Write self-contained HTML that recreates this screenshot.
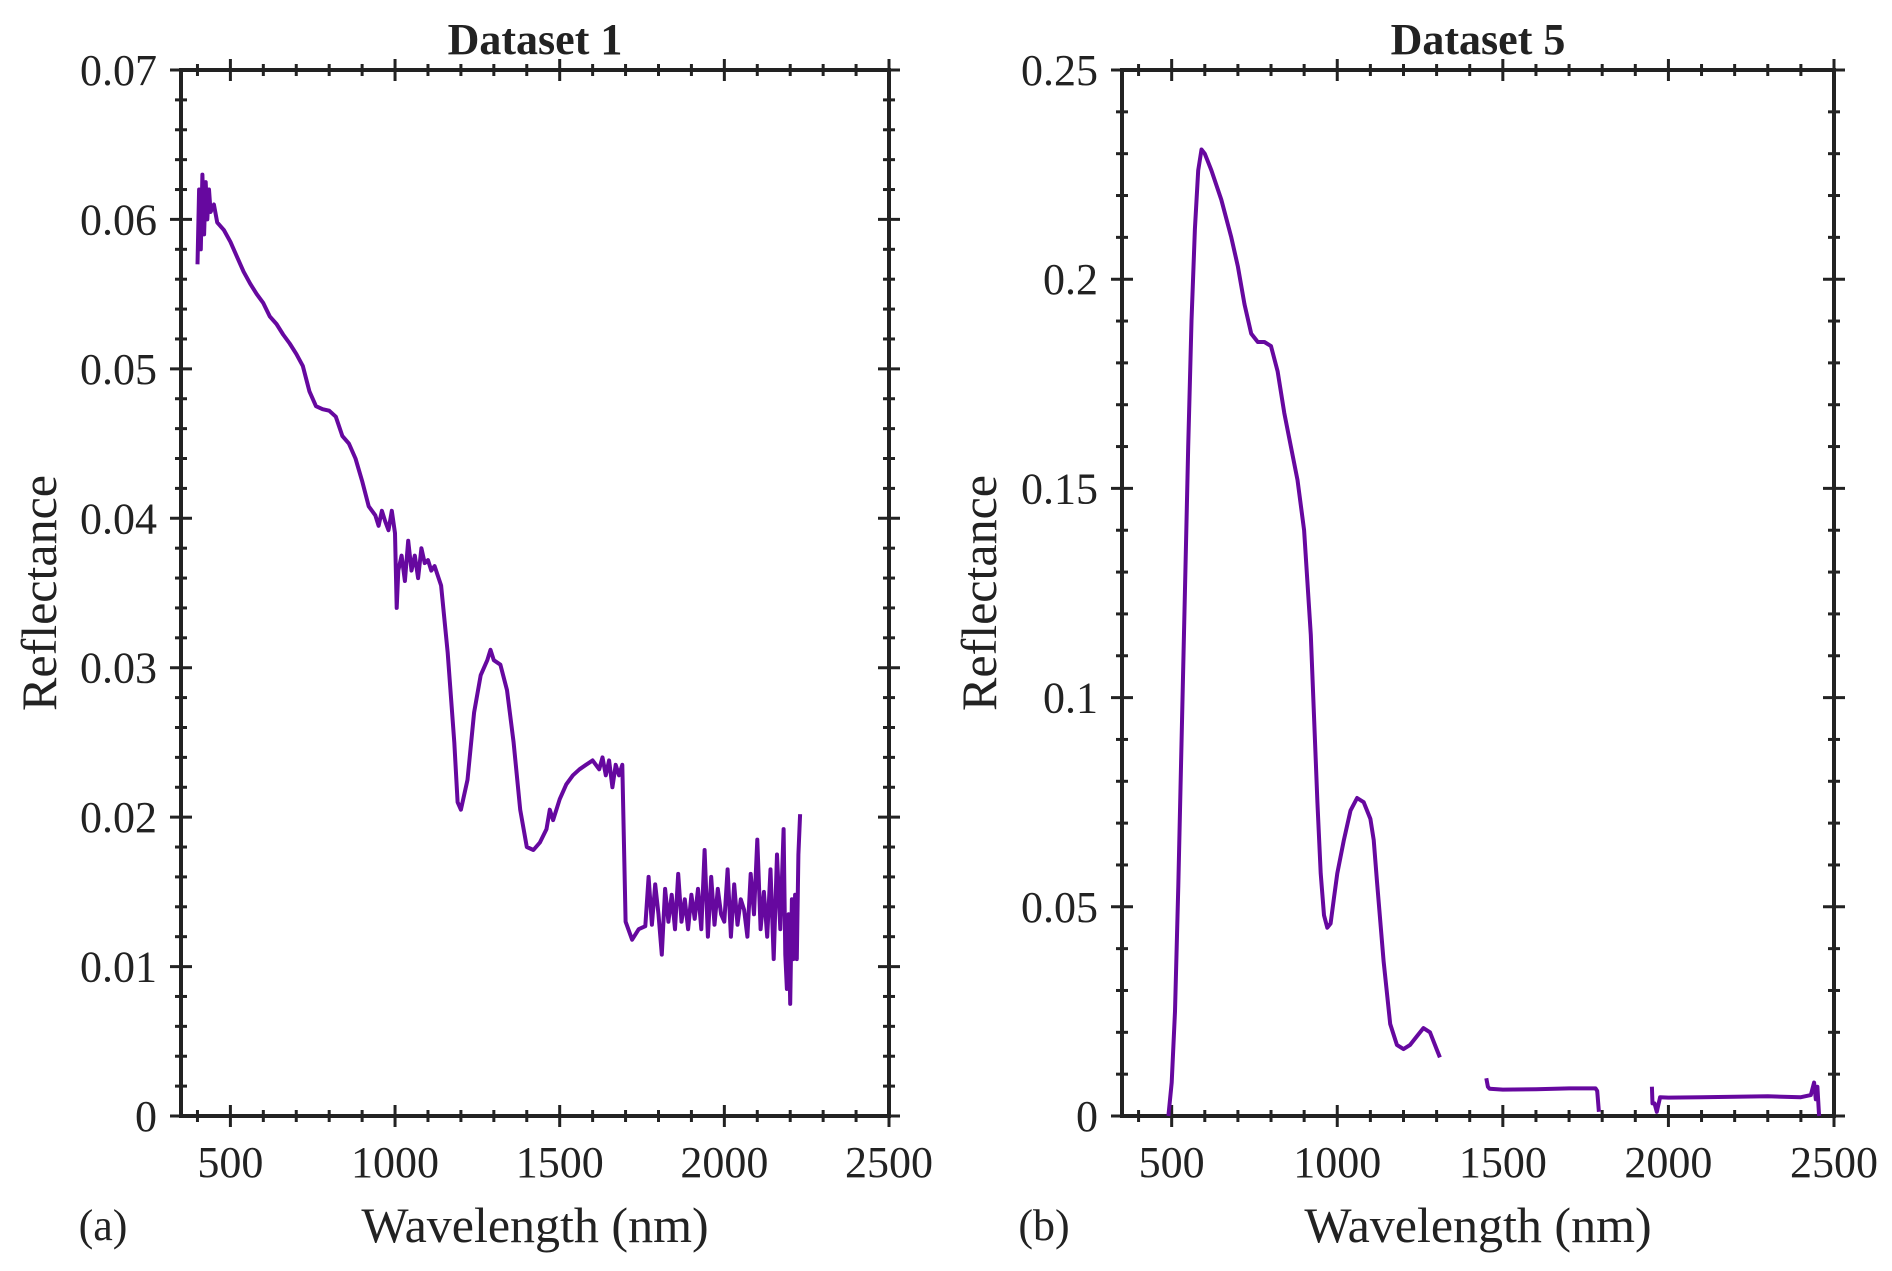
<!DOCTYPE html>
<html><head><meta charset="utf-8"><style>
html,body{margin:0;padding:0;background:#fff;}
svg{display:block;font-family:"Liberation Serif",serif;}
</style></head><body>
<svg id="fig" width="1892" height="1271" viewBox="0 0 1892 1271"></svg>
<script>
const wl1 = [400,405,410,415,420,425,430,435,440,450,460,480,500,520,540,560,580,600,620,640,660,680,700,720,740,760,780,800,820,840,860,880,900,920,930,940,950,960,970,980,990,1000,1005,1010,1020,1030,1040,1050,1060,1070,1080,1090,1100,1110,1120,1140,1160,1180,1190,1200,1220,1240,1260,1280,1290,1300,1320,1340,1360,1380,1400,1420,1440,1460,1470,1480,1500,1520,1540,1560,1580,1600,1620,1630,1640,1650,1660,1670,1680,1690,1700,1720,1740,1760,1770,1780,1790,1800,1810,1820,1830,1840,1850,1860,1870,1880,1890,1900,1910,1920,1930,1940,1950,1960,1970,1980,1990,2000,2010,2020,2030,2040,2050,2060,2070,2080,2090,2100,2110,2120,2130,2140,2150,2160,2170,2180,2185,2190,2195,2200,2205,2210,2215,2220,2225,2230];
const refl1 = [0.057,0.062,0.058,0.063,0.059,0.0625,0.06,0.062,0.0605,0.061,0.0598,0.0593,0.0585,0.0575,0.0565,0.0557,0.055,0.0544,0.0535,0.053,0.0523,0.0517,0.051,0.0502,0.0485,0.0475,0.0473,0.0472,0.0468,0.0455,0.045,0.044,0.0425,0.0408,0.0405,0.0402,0.0395,0.0405,0.0398,0.0392,0.0405,0.039,0.034,0.0365,0.0375,0.0358,0.0385,0.0365,0.0375,0.036,0.038,0.037,0.0372,0.0365,0.0368,0.0355,0.031,0.025,0.021,0.0205,0.0225,0.027,0.0295,0.0305,0.0312,0.0305,0.0302,0.0285,0.025,0.0205,0.018,0.0178,0.0183,0.0192,0.0205,0.0198,0.0212,0.0222,0.0228,0.0232,0.0235,0.0238,0.0232,0.024,0.0228,0.0238,0.022,0.0235,0.0228,0.0235,0.013,0.0118,0.0125,0.0127,0.016,0.0128,0.0155,0.0135,0.0108,0.0152,0.013,0.0148,0.0125,0.0162,0.013,0.0145,0.0125,0.0148,0.0132,0.0152,0.0125,0.0178,0.012,0.016,0.0128,0.0152,0.0135,0.013,0.0165,0.012,0.0155,0.0128,0.0145,0.0138,0.012,0.0162,0.0135,0.0185,0.0125,0.015,0.012,0.0165,0.0105,0.0175,0.0125,0.0192,0.0108,0.0085,0.0135,0.0075,0.0145,0.0105,0.0148,0.0105,0.0175,0.0202];
const wl5 = [490,500,510,520,530,540,550,560,570,580,590,600,610,620,650,680,700,720,740,760,780,800,820,840,860,880,900,920,930,940,950,960,970,980,990,1000,1020,1040,1060,1080,1100,1110,1120,1140,1160,1180,1200,1220,1240,1260,1280,1300,1310,1320,1440,1450,1455,1460,1500,1600,1700,1780,1785,1790,1800,1940,1950,1952,1958,1965,1975,2000,2100,2200,2300,2400,2430,2440,2445,2450,2455];
const refl5 = [0,0.008,0.025,0.055,0.09,0.125,0.16,0.19,0.212,0.226,0.231,0.23,0.228,0.226,0.219,0.21,0.203,0.194,0.187,0.185,0.185,0.184,0.178,0.168,0.16,0.152,0.14,0.115,0.095,0.075,0.058,0.048,0.045,0.046,0.052,0.058,0.066,0.073,0.076,0.075,0.071,0.066,0.056,0.037,0.022,0.017,0.016,0.017,0.019,0.021,0.02,0.016,0.014,null,null,0.009,0.007,0.0065,0.0063,0.0064,0.0066,0.0066,0.006,0.001,null,null,0.007,0.003,0.003,0.001,0.0045,0.0044,0.0045,0.0046,0.0047,0.0045,0.005,0.008,0.004,0.007,0];
const xTicks = [500,1000,1500,2000,2500];
const y1Ticks = [0,0.01,0.02,0.03,0.04,0.05,0.06,0.07];
const y1Labels = ["0","0.01","0.02","0.03","0.04","0.05","0.06","0.07"];
const y5Ticks = [0,0.05,0.1,0.15,0.2,0.25];
const y5Labels = ["0","0.05","0.1","0.15","0.2","0.25"];

const NS="http://www.w3.org/2000/svg";
const svg=document.getElementById('fig');
function mk(tag,attrs,parent){const e=document.createElementNS(NS,tag);for(const k in attrs)e.setAttribute(k,attrs[k]);(parent||svg).appendChild(e);return e;}

function panel(o){
  const g=mk('g',{});
  
  
  const X=v=>o.L+(v-350)/(2500-350)*(o.R-o.L);
  const Y=v=>o.B-(v/o.ymax)*(o.B-o.T);
  for(let v=400;v<=2500;v+=100){
    const len=(v%500===0)?11:6;
    mk('line',{x1:X(v),x2:X(v),y1:o.B-len,y2:o.B+len,stroke:'#222','stroke-width':3},g);
    mk('line',{x1:X(v),x2:X(v),y1:o.T-len,y2:o.T+len,stroke:'#222','stroke-width':3},g);
  }
  for(let i=0;i<=Math.round(o.ymax/o.ystep);i++){
    const v=i*o.ystep;const major=(i%o.majEvery===0);const len=major?11:6;
    mk('line',{x1:o.L-len,x2:o.L+len,y1:Y(v),y2:Y(v),stroke:'#222','stroke-width':3},g);
    mk('line',{x1:o.R-len,x2:o.R+len,y1:Y(v),y2:Y(v),stroke:'#222','stroke-width':3},g);
  }
  const box=mk('rect',{x:o.L,y:o.T,width:o.R-o.L,height:o.B-o.T,fill:'none',stroke:'#222','stroke-width':4},g);
  
  
  xTicks.forEach(v=>{
    const t=mk('text',{x:X(v),y:o.B+61,'text-anchor':'middle','font-size':44,fill:'#222'},g);
    
    
    t.textContent=v;
  });
  o.yt.forEach((v,i)=>{
    const t=mk('text',{x:o.L-24,y:Y(v)+15,'text-anchor':'end','font-size':44,fill:'#222'},g);
    
    
    t.textContent=o.yl[i];
  });
  let d='';let pen=false;
  for(let i=0;i<o.xs.length;i++){
    const v=o.ys[i];
    if(v===null){pen=false;continue;}
    d+=(pen?'L':'M')+X(o.xs[i]).toFixed(1)+','+Y(v).toFixed(1);pen=true;
  }
  const p=mk('path',{d:d,fill:'none',stroke:'#66089f','stroke-width':4,'stroke-linejoin':'round'},g);
  
  
  const ti=mk('text',{x:(o.L+o.R)/2,y:54,'text-anchor':'middle','font-size':44,'font-weight':'bold',fill:'#222'},g);
  
  
  ti.textContent=o.title;
  const xl=mk('text',{x:(o.L+o.R)/2,y:1242,'text-anchor':'middle','font-size':50,fill:'#222'},g);
  
  
  xl.textContent='Wavelength (nm)';
  const yl=mk('text',{x:0,y:0,'text-anchor':'middle','font-size':50,fill:'#222',transform:`translate(${o.ylx},${(o.T+o.B)/2}) rotate(-90)`},g);
  
  
  yl.textContent='Reflectance';
  const pl=mk('text',{x:o.plx,y:1240,'text-anchor':'middle','font-size':44,fill:'#222'},g);
  
  
  pl.textContent=o.pl;
}
panel({name:'panel-a',L:181,R:889,T:70,B:1116,ymax:0.07,ystep:0.002,majEvery:5,yt:y1Ticks,yl:y1Labels,xs:wl1,ys:refl1,title:'Dataset 1',ylx:56,plx:103,pl:'(a)'});
panel({name:'panel-b',L:1122,R:1834,T:70,B:1116,ymax:0.25,ystep:0.01,majEvery:5,yt:y5Ticks,yl:y5Labels,xs:wl5,ys:refl5,title:'Dataset 5',ylx:996,plx:1044,pl:'(b)'});
</script>
</body></html>
